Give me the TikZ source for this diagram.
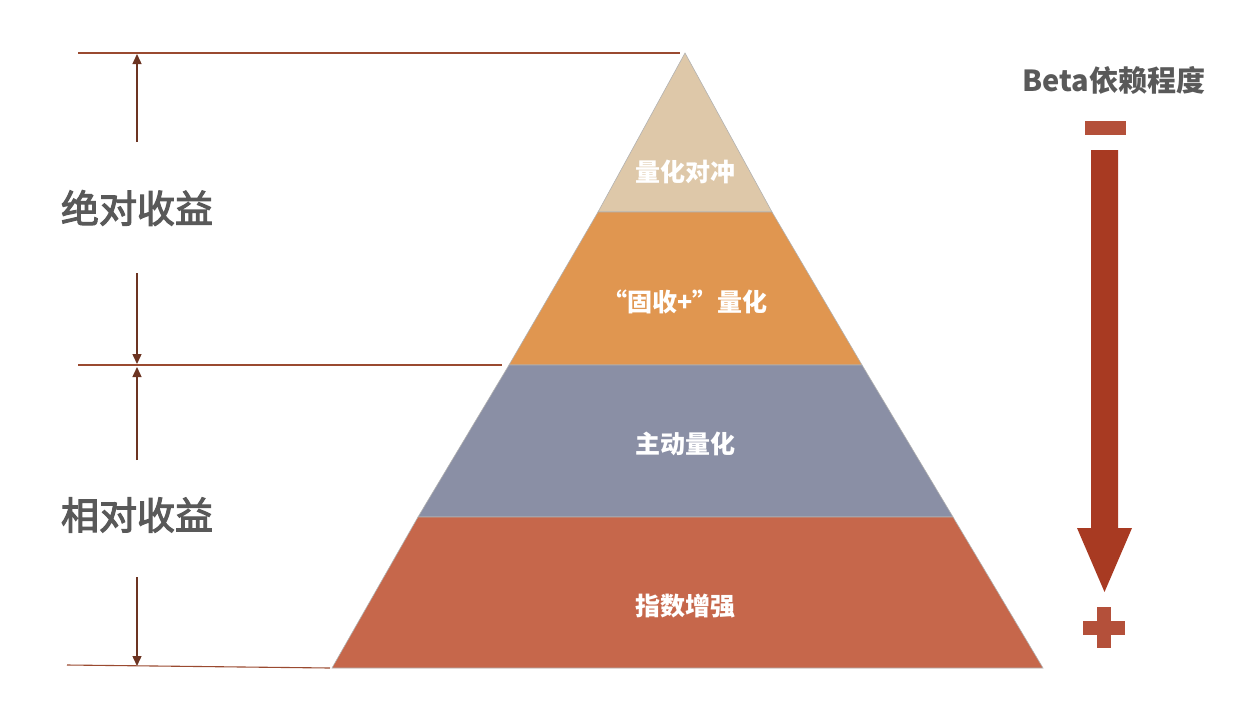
\documentclass[tikz,border=0pt]{standalone}
\usepackage{fontspec}
\setmainfont{Noto Sans CJK SC}
\newfontfamily\sidefont{Noto Sans CJK SC}[FakeBold=3]
\usetikzlibrary{arrows.meta,calc}
\definecolor{hedge}{HTML}{DEC8A9}
\definecolor{fixinc}{HTML}{E09650}
\definecolor{active}{HTML}{8A8FA5}
\definecolor{index}{HTML}{C6674B}
\definecolor{rule}{HTML}{9A4A30}
\definecolor{betared}{HTML}{A83A22}
\definecolor{signred}{HTML}{B4503A}
\definecolor{labelgray}{HTML}{595959}
\tikzset{
  tier/.style={draw=gray!60, line width=0.6pt},
  tiertext/.style={text=white, font=\fontsize{25}{27}\selectfont\bfseries},
  sidetext/.style={text=labelgray, font=\fontsize{38}{40}\sidefont},
  level/.style={draw=rule, line width=1.1pt},
  dim/.style={draw=rule!70!black, line width=1.4pt, -{Triangle[length=10pt,width=9pt]}}
}
\newcommand{\sign}[3]{% sign bar: center, half length, half thickness
  \fill[signred] ($(#1)+(-#2,-#3)$) rectangle ($(#1)+(#2,#3)$);
}

\begin{document}
\begin{tikzpicture}[x=1pt,y=-1pt]
\useasboundingbox (0,0) rectangle (1246,720);
% pyramid corners
\coordinate (apex) at (685,53);
\coordinate (L1) at (598,212); \coordinate (R1) at (772,212);
\coordinate (L2) at (509,365); \coordinate (R2) at (862,365);
\coordinate (L3) at (418,517); \coordinate (R3) at (953,517);
\coordinate (L4) at (332,668); \coordinate (R4) at (1043,668);
% tiers
\fill[tier, fill=hedge] (apex) -- (R1) -- (L1) -- cycle;
\foreach \a/\b/\col in {1/2/fixinc, 2/3/active, 3/4/index}
  \fill[tier, fill=\col] (L\a) -- (R\a) -- (R\b) -- (L\b) -- cycle;
\node[tiertext] (hedgetxt) at (685,172) {量化对冲};
\node[tiertext] (fixtxt) at (685,302) {“固收+”量化};
\node[tiertext] (activetxt) at (685,444) {主动量化};
\node[tiertext] (indextxt) at (685,606) {指数增强};
% level lines
\coordinate (top0) at (78,53);   \coordinate (top1) at (680,53);
\coordinate (mid0) at (78,365);  \coordinate (mid1) at (502,365);
\coordinate (bot0) at (67,665);  \coordinate (bot1) at (330,668);
\draw[level] (top0) -- (top1);
\draw[level] (mid0) -- (mid1);
\draw[level] (bot0) -- (bot1);
% returns
\node[sidetext] (absret) at (137,208) {绝对收益};
\node[sidetext] (relret) at (137,515) {相对收益};
\draw[dim] (137,142) -- (137,54);
\draw[dim] (137,273) -- (137,364);
\draw[dim] (137,460) -- (137,367);
\draw[dim] (137,577) -- (137,666);
% beta scale
\node[text=labelgray, font=\fontsize{29}{31}\selectfont\bfseries] (beta) at (1114,80) {Beta依赖程度};
\coordinate (minus) at (1105.5,128);
\coordinate (plus) at (1104,627.5);
\sign{minus}{20.5}{7}
\sign{plus}{21}{7}
\sign{plus}{7}{20.5}
\fill[betared] (1091,150) -- (1118,150) -- (1118,528) -- (1132,528)
  -- (1104.5,592) -- (1077,528) -- (1091,528) -- cycle;
\end{tikzpicture}
\end{document}
